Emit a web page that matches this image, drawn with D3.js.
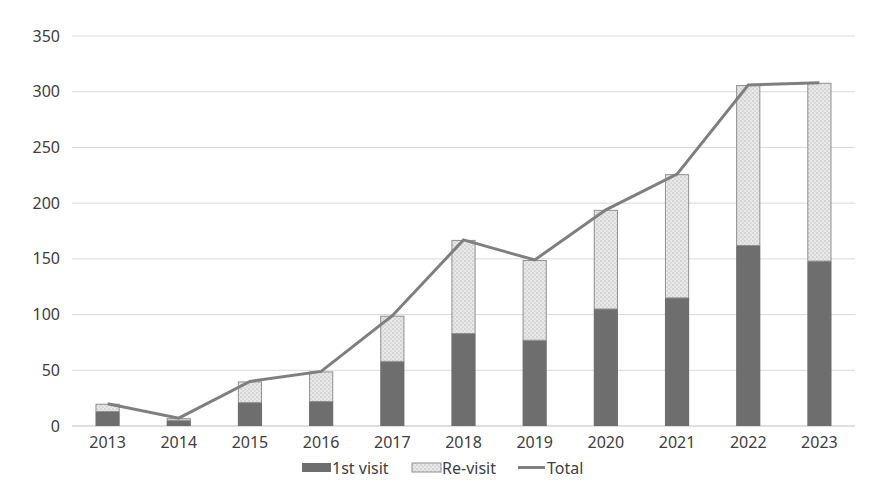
<!DOCTYPE html><html><head><meta charset="utf-8"><script src="https://cdn.jsdelivr.net/npm/d3@7"></script>
<style>body{margin:0;background:#fff}text{font-family:"Noto Sans",sans-serif}</style></head><body><svg id="c" width="882" height="503"></svg>
<script>
const years=["2013","2014","2015","2016","2017","2018","2019","2020","2021","2022","2023"];
const firstVisit=[13,5,21,22,58,83,77,105,115,162,148];
const total=[20,7,40,49,99,167,149,194,226,306,308];
const revisit=total.map((t,i)=>t-firstVisit[i]);
const yTicks=[0,50,100,150,200,250,300,350];
const svg=d3.select("#c");
const defs=svg.append("defs");
const p=defs.append("pattern").attr("id","pat").attr("width",4).attr("height",4).attr("patternUnits","userSpaceOnUse");
p.append("rect").attr("width",4).attr("height",4).attr("fill","#e8e8e8");
p.append("circle").attr("cx",1).attr("cy",1).attr("r",0.8).attr("fill","#bdbdbd");
p.append("circle").attr("cx",3).attr("cy",3).attr("r",0.8).attr("fill","#c8c8c8");
const x=d3.scaleBand().domain(years).range([72,855]).paddingInner(0.66).paddingOuter(0.33);
const y=d3.scaleLinear().domain([0,350]).range([426,36]);
svg.append("g").selectAll("line").data(yTicks).join("line").attr("x1",72).attr("x2",855).attr("y1",d=>y(d)).attr("y2",d=>y(d)).attr("stroke",d=>d===0?"#bfbfbf":"#d9d9d9").attr("stroke-width",1);
svg.append("g").selectAll("text").data(yTicks).join("text").attr("x",60).attr("y",d=>y(d)+5.5).attr("text-anchor","end").attr("font-size",16).attr("fill","#404040").text(d=>d);
svg.append("g").selectAll("text").data(years).join("text").attr("x",d=>x(d)+x.bandwidth()/2).attr("y",448).attr("text-anchor","middle").attr("font-size",16).attr("fill","#404040").text(d=>d);
svg.append("g").selectAll("rect").data(years).join("rect").attr("x",d=>x(d)).attr("width",x.bandwidth()).attr("y",(d,i)=>y(firstVisit[i])).attr("height",(d,i)=>y(0)-y(firstVisit[i])).attr("fill","#6e6e6e");
svg.append("g").selectAll("rect").data(years).join("rect").attr("x",d=>x(d)+0.5).attr("width",x.bandwidth()-1).attr("y",(d,i)=>y(total[i])+0.5).attr("height",(d,i)=>y(firstVisit[i])-y(total[i])-0.5).attr("fill","url(#pat)").attr("stroke","#909090").attr("stroke-width",1);
svg.append("path").datum(total).attr("fill","none").attr("stroke","#7f7f7f").attr("stroke-width",3)
 .attr("d",d3.line().x((d,i)=>x(years[i])+x.bandwidth()/2).y(d=>y(d)));
const lg=svg.append("g").attr("font-size",16).attr("fill","#404040");
lg.append("rect").attr("x",302).attr("y",463).attr("width",29).attr("height",9).attr("fill","#6e6e6e");
lg.append("text").attr("x",332).attr("y",474).text("1st visit");
lg.append("rect").attr("x",412).attr("y",463).attr("width",29).attr("height",9).attr("fill","url(#pat)").attr("stroke","#909090");
lg.append("text").attr("x",442).attr("y",474).text("Re-visit");
lg.append("line").attr("x1",518).attr("x2",545).attr("y1",467.5).attr("y2",467.5).attr("stroke","#7f7f7f").attr("stroke-width",3);
lg.append("text").attr("x",547).attr("y",474).text("Total");
</script></body></html>
